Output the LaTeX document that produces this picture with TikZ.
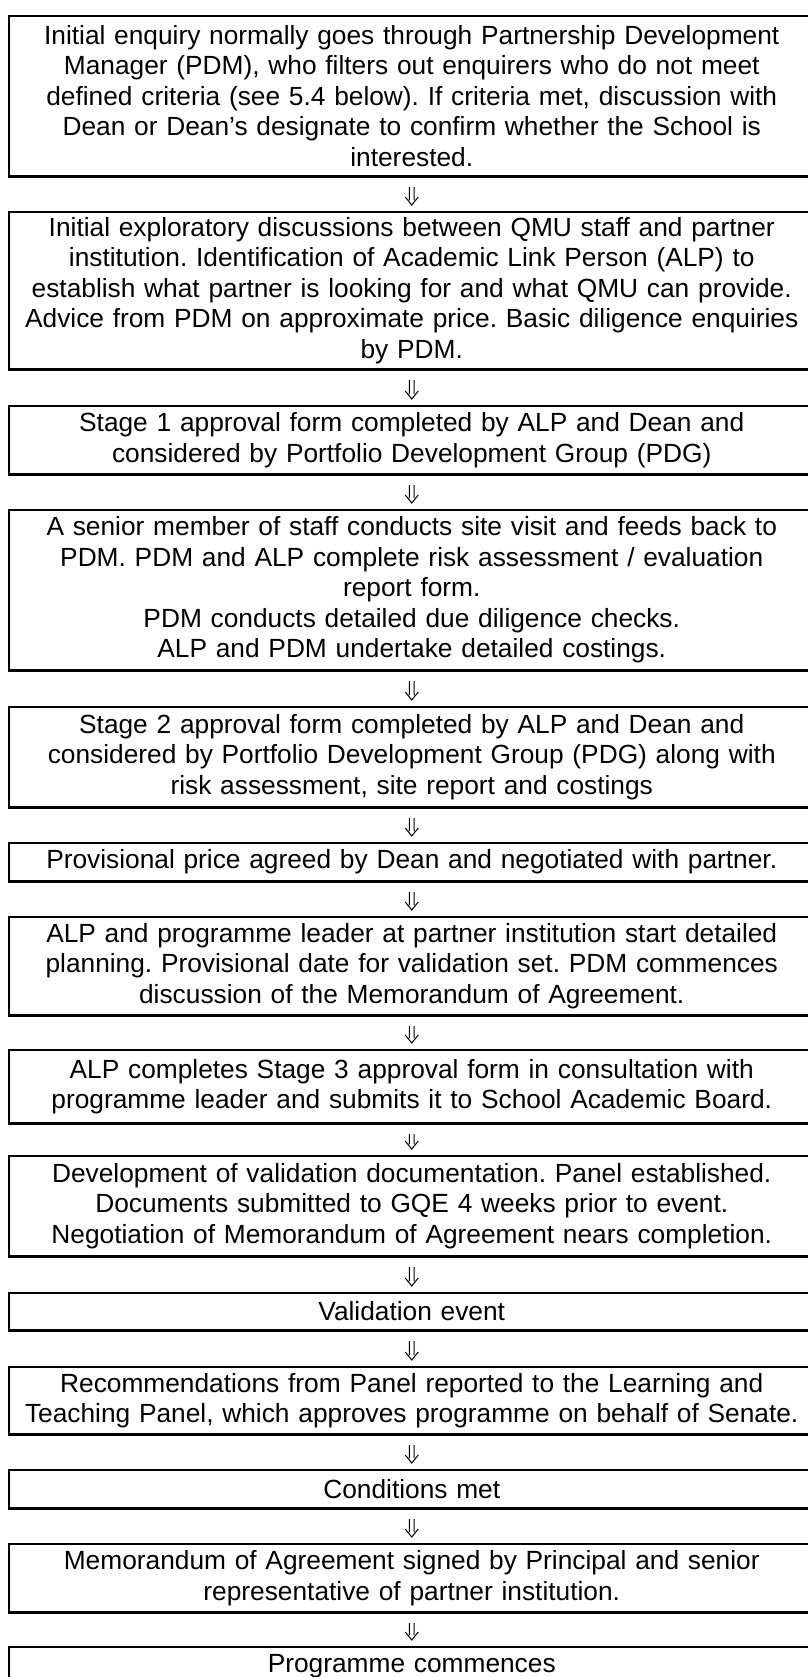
\documentclass[tikz,border=0pt]{standalone}
\usepackage{fontspec}
\setmainfont{Liberation Sans}
\frenchspacing
\usetikzlibrary{calc}
\begin{document}
\begin{tikzpicture}[x=1bp,y=1bp,
  stepbox/.style={draw=black, line width=2bp, anchor=north, minimum width=805bp,
    text width=790bp, align=center, inner sep=0pt,
    font=\fontsize{26.3bp}{30.5bp}\selectfont},
  flow/.style={draw=black, line width=1bp, line join=miter},
  botline/.style={line width=2.8bp}]
\useasboundingbox (0,0) rectangle (808,-1677);
\clip (0,0) rectangle (808,-1677);
\fill[white] (0,0) rectangle (808,-1677);
\def\cx{411.75}
\node[stepbox, minimum height=160bp] (b1) at (\cx,-15) {Initial enquiry normally goes through Partnership Development\\Manager (PDM), who filters out enquirers who do not meet\\defined criteria (see 5.4 below). If criteria met, discussion with\\Dean or Dean’s designate to confirm whether the School is\\interested.};
\node[stepbox, minimum height=157bp] (b2) at (\cx,-211) {Initial exploratory discussions between QMU staff and partner\\institution. Identification of Academic Link Person (ALP) to\\establish what partner is looking for and what QMU can provide.\\Advice from PDM on approximate price. Basic diligence enquiries\\by PDM.};
\node[stepbox, minimum height=68bp] (b3) at (\cx,-405) {Stage 1 approval form completed by ALP and Dean and\\considered by Portfolio Development Group (PDG)};
\node[stepbox, minimum height=160bp] (b4) at (\cx,-509) {A senior member of staff conducts site visit and feeds back to\\PDM. PDM and ALP complete risk assessment / evaluation\\report form.\\PDM conducts detailed due diligence checks.\\ALP and PDM undertake detailed costings.};
\node[stepbox, minimum height=100bp] (b5) at (\cx,-706) {Stage 2 approval form completed by ALP and Dean and\\considered by Portfolio Development Group (PDG) along with\\risk assessment, site report and costings};
\node[stepbox, minimum height=38bp] (b6) at (\cx,-842) {Provisional price agreed by Dean and negotiated with partner.};
\node[stepbox, minimum height=98bp] (b7) at (\cx,-916) {ALP and programme leader at partner institution start detailed\\planning. Provisional date for validation set. PDM commences\\discussion of the Memorandum of Agreement.};
\node[stepbox, minimum height=73bp] (b8) at (\cx,-1049) {ALP completes Stage 3 approval form in consultation with\\programme leader and submits it to School Academic Board.};
\node[stepbox, minimum height=100bp] (b9) at (\cx,-1155) {Development of validation documentation. Panel established.\\Documents submitted to GQE 4 weeks prior to event.\\Negotiation of Memorandum of Agreement nears completion.};
\node[stepbox, minimum height=37bp] (b10) at (\cx,-1292) {Validation event};
\node[stepbox, minimum height=67bp] (b11) at (\cx,-1366) {Recommendations from Panel reported to the Learning and\\Teaching Panel, which approves programme on behalf of Senate.};
\node[stepbox, minimum height=38bp] (b12) at (\cx,-1469) {Conditions met};
\node[stepbox, minimum height=68bp] (b13) at (\cx,-1543) {Memorandum of Agreement signed by Principal and senior\\representative of partner institution.};
\node[stepbox, minimum height=38bp] (b14) at (\cx,-1646) {Programme commences};
\foreach \i in {1,...,13} {
  \draw[botline] (b\i.south west) -- (b\i.south east);
}
\foreach \i/\j in {1/2,2/3,3/4,4/5,5/6,6/7,7/8,8/9,9/10,10/11,11/12,12/13,13/14} {
  \coordinate (t\i) at ($(b\i.south)+(0,-10)$);
  \coordinate (h\i) at ($(b\j.north)+(0,6)$);
  \draw[flow] ($(t\i)+(-2.4,0)$) -- ($(h\i)+(-2.4,5)$)
              ($(t\i)+(2.4,0)$) -- ($(h\i)+(2.4,5)$)
              ($(h\i)+(-6.5,8)$) -- (h\i) -- ($(h\i)+(6.5,8)$);
}
\end{tikzpicture}
\end{document}
